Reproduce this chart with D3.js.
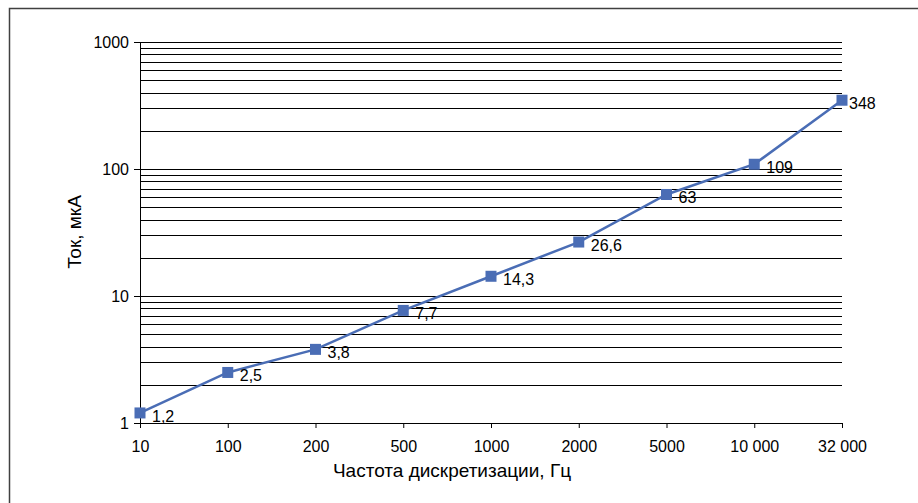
<!DOCTYPE html>
<html>
<head>
<meta charset="utf-8">
<script src="https://cdn.jsdelivr.net/npm/d3@7"></script>
<style>
  body { margin: 0; background: #fff; }
  text { font-family: "Liberation Sans", Arial, sans-serif; fill: #000; }
</style>
</head>
<body>
<div id="chart"></div>
<script>
// chart data
var freqLabels = ["10", "100", "200", "500", "1000", "2000", "5000", "10 000", "32 000"];
var current = [1.2, 2.5, 3.8, 7.7, 14.3, 26.6, 63, 109, 348];
var currentLabels = ["1,2", "2,5", "3,8", "7,7", "14,3", "26,6", "63", "109", "348"];
var yTicks = [1, 10, 100, 1000];

var W = 918, H = 503;
var margin = {top: 42, right: 76, bottom: 80, left: 140},
    width = W - margin.left - margin.right,
    height = H - margin.top - margin.bottom;

var svg = d3.select("#chart").append("svg")
    .attr("width", W)
    .attr("height", H);

// outer frame
svg.append("rect")
    .attr("x", 9.5).attr("y", 8.5)
    .attr("width", W).attr("height", H)
    .attr("fill", "none")
    .attr("stroke", "#404040")
    .attr("stroke-width", 1.5);

var g = svg.append("g")
    .attr("transform", "translate(" + margin.left + "," + margin.top + ")");

var x = d3.scalePoint().domain(freqLabels).range([0, width]).padding(0);
var y = d3.scaleLog().domain([1, 1000]).range([height, 0]);

// gridlines at every log step
var gridVals = [];
[1, 10, 100].forEach(function(dec) {
  for (var k = 2; k <= 10; k++) gridVals.push(dec * k);
});
g.append("g")
  .selectAll("line")
  .data(gridVals)
  .enter().append("line")
  .attr("x1", 0).attr("x2", width)
  .attr("y1", function(d) { return Math.round(y(d)) + 0.5; })
  .attr("y2", function(d) { return Math.round(y(d)) + 0.5; })
  .attr("stroke", "#000")
  .attr("stroke-width", 1);

// y axis
var yAxis = g.append("g")
  .call(d3.axisLeft(y).tickValues(yTicks).tickSize(6).tickPadding(5).tickFormat(d3.format("d")));
yAxis.select(".domain").attr("stroke", "#000");
yAxis.selectAll("text").style("font-size", "16px");

// x axis
var xAxis = g.append("g")
  .attr("transform", "translate(0," + height + ")")
  .call(d3.axisBottom(x).tickSize(5).tickSizeOuter(0).tickPadding(13));
xAxis.select(".domain").attr("stroke", "#000");
xAxis.selectAll("text").style("font-size", "16px");

// axis titles
svg.append("text")
  .attr("x", 452).attr("y", 477)
  .attr("text-anchor", "middle")
  .style("font-size", "19px")
  .text("Частота дискретизации, Гц");

svg.append("text")
  .attr("transform", "translate(81,232) rotate(-90)")
  .attr("text-anchor", "middle")
  .style("font-size", "19px")
  .text("Ток, мкА");

// series
var line = d3.line()
  .x(function(d, i) { return x(freqLabels[i]); })
  .y(function(d) { return y(d); });

g.append("path")
  .datum(current)
  .attr("fill", "none")
  .attr("stroke", "#4a6db5")
  .attr("stroke-width", 2.5)
  .attr("d", line);

var ms = 11;
g.selectAll(".marker")
  .data(current)
  .enter().append("rect")
  .attr("class", "marker")
  .attr("x", function(d, i) { return x(freqLabels[i]) - ms / 2; })
  .attr("y", function(d) { return y(d) - ms / 2; })
  .attr("width", ms).attr("height", ms)
  .attr("fill", "#4a6db5");

g.selectAll(".lbl")
  .data(current)
  .enter().append("text")
  .attr("class", "lbl")
  .attr("x", function(d, i) { return x(freqLabels[i]) + (i === current.length - 1 ? 7 : 12); })
  .attr("y", function(d) { return y(d) + 9; })
  .style("font-size", "16px")
  .text(function(d, i) { return currentLabels[i]; });
</script>
</body>
</html>
